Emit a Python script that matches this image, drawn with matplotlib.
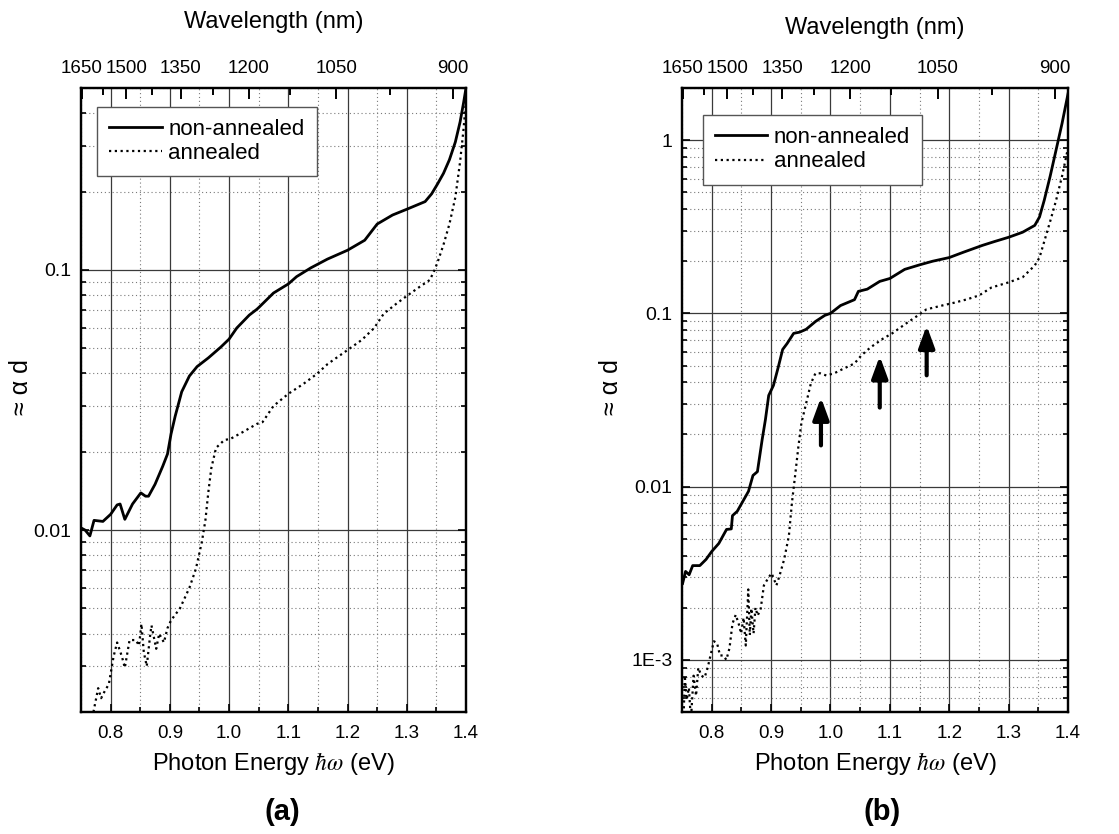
import matplotlib

matplotlib.use("Agg")
import matplotlib.pyplot as plt
from matplotlib.patches import ArrowStyle
from matplotlib.ticker import FixedLocator, LogLocator, NullFormatter

plt.rcParams["font.family"] = ["Liberation Sans", "DejaVu Sans"]
plt.rcParams["mathtext.fontset"] = "stix"

HC = 1239.84  # eV*nm

# ---- panel (a) ----
a_non_E = [0.750, 0.757, 0.765, 0.772, 0.787, 0.800, 0.811, 0.816, 0.824, 0.837,
           0.851, 0.859, 0.864, 0.875, 0.888, 0.896, 0.902, 0.909, 0.920, 0.933,
           0.946, 0.965, 0.986, 1.000, 1.013, 1.034, 1.047, 1.051, 1.075, 1.100,
           1.114, 1.138, 1.166, 1.200, 1.229, 1.250, 1.276, 1.300, 1.331, 1.342,
           1.352, 1.362, 1.372, 1.382, 1.390, 1.396, 1.400]
a_non_y = [0.0102, 0.0100, 0.0095, 0.0109, 0.0108, 0.0115, 0.0125, 0.0126, 0.0110, 0.0126,
           0.0139, 0.0135, 0.0135, 0.0150, 0.0176, 0.0196, 0.0234, 0.0274, 0.0340, 0.0391,
           0.0425, 0.0459, 0.0505, 0.0542, 0.0598, 0.0670, 0.0706, 0.0720, 0.0815, 0.0883,
           0.0942, 0.1018, 0.1100, 0.1190, 0.1300, 0.1500, 0.1625, 0.1710, 0.1830, 0.1960,
           0.2140, 0.2350, 0.2650, 0.3100, 0.3700, 0.4400, 0.5000]

a_ann_E = [0.771, 0.779, 0.784, 0.789, 0.797, 0.805, 0.811, 0.819, 0.824, 0.832,
           0.8425, 0.848, 0.852, 0.856, 0.861, 0.8665, 0.869, 0.877, 0.882, 0.890,
           0.896, 0.902, 0.917, 0.933, 0.944, 0.954, 0.960, 0.965, 0.970, 0.978,
           0.992, 1.002, 1.023, 1.047, 1.0565, 1.075, 1.100, 1.125, 1.148, 1.1665,
           1.200, 1.224, 1.245, 1.261, 1.282, 1.300, 1.324, 1.339, 1.347, 1.352,
           1.362, 1.372, 1.382, 1.390, 1.396, 1.400]
a_ann_y = [0.0020, 0.00247, 0.00226, 0.00238, 0.00256, 0.00327, 0.0037, 0.00327, 0.00296, 0.00378,
           0.00378, 0.0036, 0.00436, 0.0034, 0.0030, 0.0039, 0.0043, 0.0035, 0.0040, 0.0037,
           0.0042, 0.0045, 0.0050, 0.0060, 0.0071, 0.0090, 0.0109, 0.0140, 0.0173, 0.0207,
           0.0222, 0.0224, 0.0238, 0.0256, 0.0260, 0.0300, 0.0334, 0.0364, 0.0398, 0.0435,
           0.0492, 0.0538, 0.0598, 0.0678, 0.0740, 0.0794, 0.0868, 0.0915, 0.1000, 0.1070,
           0.1250, 0.1500, 0.1900, 0.2600, 0.3500, 0.4500]

# ---- panel (b) ----
b_non_E = [0.751, 0.756, 0.762, 0.768, 0.780, 0.7905, 0.800, 0.812, 0.825, 0.833,
           0.835, 0.843, 0.854, 0.862, 0.8695, 0.877, 0.885, 0.8905, 0.896, 0.904,
           0.912, 0.9195, 0.927, 0.938, 0.948, 0.959, 0.975, 0.9905, 1.000, 1.017,
           1.0405, 1.047, 1.062, 1.083, 1.100, 1.125, 1.151, 1.172, 1.200, 1.224,
           1.256, 1.2765, 1.300, 1.3235, 1.344, 1.352, 1.360, 1.370, 1.380, 1.390,
           1.400]
b_non_y = [0.00276, 0.00324, 0.0031, 0.0035, 0.0035, 0.0038, 0.00422, 0.0047, 0.00566, 0.0057,
           0.0068, 0.0072, 0.0084, 0.0094, 0.0116, 0.0122, 0.0187, 0.0244, 0.0336, 0.0384,
           0.0488, 0.0619, 0.0670, 0.0767, 0.0779, 0.0809, 0.0899, 0.0974, 0.1000, 0.1110,
           0.1200, 0.1340, 0.1380, 0.1530, 0.1590, 0.1795, 0.1910, 0.2000, 0.2100, 0.2255,
           0.2470, 0.2600, 0.2750, 0.2940, 0.3220, 0.3600, 0.4500, 0.6200, 0.8800, 1.2500,
           1.8500]

b_ann_E = [0.7526, 0.7547, 0.758, 0.7616, 0.765, 0.7695, 0.7737, 0.7774, 0.7826, 0.788,
           0.7932, 0.798, 0.8037, 0.809, 0.814, 0.8195, 0.8247, 0.830, 0.835, 0.8405,
           0.8458, 0.8495, 0.8537, 0.8574, 0.8616, 0.8642, 0.8668, 0.8705, 0.8737, 0.8774,
           0.8826, 0.8879, 0.8958, 0.901, 0.909, 0.9142, 0.922, 0.930, 0.935, 0.9405,
           0.9458, 0.951, 0.959, 0.967, 0.9747, 0.9826, 0.993, 1.0063, 1.0195, 1.0405,
           1.052, 1.0676, 1.0885, 1.104, 1.1277, 1.1475, 1.1616, 1.188, 1.2086, 1.2295,
           1.2504, 1.271, 1.300, 1.3235, 1.344, 1.352, 1.360, 1.370, 1.380, 1.390,
           1.400]
b_ann_y = [0.00045, 0.00081, 0.00059, 0.00069, 0.00045, 0.00081, 0.00062, 0.00090, 0.00081, 0.00079,
           0.00090, 0.00106, 0.00128, 0.00125, 0.00106, 0.00106, 0.00100, 0.00117, 0.00162, 0.00182,
           0.00160, 0.00142, 0.00175, 0.00121, 0.00255, 0.00139, 0.00198, 0.00142, 0.00200, 0.00180,
           0.00198, 0.00269, 0.00299, 0.00316, 0.00269, 0.00306, 0.0038, 0.0052, 0.0080, 0.0116,
           0.0168, 0.0232, 0.0302, 0.0394, 0.0451, 0.0451, 0.0438, 0.0451, 0.0475, 0.0514,
           0.0572, 0.0637, 0.0715, 0.0767, 0.0876, 0.0974, 0.1055, 0.1110, 0.1153, 0.1204,
           0.1270, 0.1410, 0.1510, 0.1615, 0.1890, 0.2100, 0.2600, 0.3400, 0.4500, 0.6200,
           0.9000]

# arrows in panel (b): energy, tail value, head value
arrow_E = [0.984, 1.083, 1.162]
arrow_tail = [0.0173, 0.0286, 0.0439]
arrow_head = [0.0327, 0.0567, 0.0850]

top_major_nm = [1650, 1500, 1350, 1200, 1050, 900]
top_minor_nm = [1575, 1425, 1275, 1125, 975]
x_major = [0.8, 0.9, 1.0, 1.1, 1.2, 1.3, 1.4]
x_minor = [0.75, 0.85, 0.95, 1.05, 1.15, 1.25, 1.35]


def style_panel(ax, ylim, yticks, ylabels, ylabel_x, wl_pad):
    ax.set_xlim(0.75, 1.4)
    ax.set_yscale("log")
    ax.set_ylim(*ylim)
    ax.xaxis.set_major_locator(FixedLocator(x_major))
    ax.xaxis.set_minor_locator(FixedLocator(x_minor))
    ax.set_xticklabels([f"{v:.1f}" for v in x_major])
    ax.yaxis.set_major_locator(FixedLocator(yticks))
    ax.set_yticklabels(ylabels)
    ax.yaxis.set_minor_locator(LogLocator(base=10, subs=range(2, 10)))
    ax.yaxis.set_minor_formatter(NullFormatter())

    ax.grid(True, which="major", color="#3a3a3a", linewidth=0.9, linestyle="-")
    ax.grid(True, which="minor", color="#7a7a7a", linewidth=0.8, linestyle=(0, (1, 2.5)))
    ax.tick_params(which="both", direction="in", left=True, right=True, top=False,
                   bottom=True, width=1.2)
    ax.tick_params(which="major", length=6)
    ax.tick_params(which="minor", length=3.5)
    ax.tick_params(axis="x", pad=9, labelsize=13.5)
    ax.tick_params(axis="y", pad=7, labelsize=14)
    for spine in ax.spines.values():
        spine.set_linewidth(1.6)

    ax.set_xlabel(r"Photon Energy $\hbar\omega$ (eV)", fontsize=17, labelpad=6)
    ax.set_ylabel("≈ α d", fontsize=18)
    ax.yaxis.set_label_coords(ylabel_x, 0.52)

    top = ax.twiny()
    top.set_xlim(ax.get_xlim())
    top.xaxis.set_major_locator(FixedLocator([HC / nm for nm in top_major_nm]))
    top.xaxis.set_minor_locator(FixedLocator([HC / nm for nm in top_minor_nm]))
    top.set_xticklabels([str(nm) for nm in top_major_nm])
    top.tick_params(which="both", direction="in", width=1.4, labelsize=13.5, pad=8)
    top.tick_params(which="major", length=8)
    top.tick_params(which="minor", length=5)
    top.set_xlabel("Wavelength (nm)", fontsize=17, labelpad=wl_pad)
    for spine in top.spines.values():
        spine.set_linewidth(1.6)
    return top


def draw_curves(ax, non_E, non_y, ann_E, ann_y, legend_anchor):
    ax.plot(non_E, non_y, color="black", linewidth=2.0, linestyle="-", label="non-annealed")
    ax.plot(ann_E, ann_y, color="black", linewidth=1.6, linestyle=(0, (1, 1.6)), label="annealed")
    leg = ax.legend(loc="upper left", bbox_to_anchor=legend_anchor, fontsize=16,
                    frameon=True, fancybox=False, framealpha=1, edgecolor="#555555",
                    handlelength=2.35, handletextpad=0.3, borderpad=0.55,
                    labelspacing=0.15, borderaxespad=0)
    leg.get_frame().set_linewidth(1.0)
    leg.set_zorder(5)


fig = plt.figure(figsize=(11.19, 8.34), dpi=100)
ax_a = fig.add_axes([81 / 1119, 1 - 712 / 834, 385 / 1119, 624 / 834])
ax_b = fig.add_axes([682 / 1119, 1 - 712 / 834, 386 / 1119, 624 / 834])

draw_curves(ax_a, a_non_E, a_non_y, a_ann_E, a_ann_y, (0.042, 0.97))
style_panel(ax_a, (0.002, 0.5), [0.01, 0.1], ["0.01", "0.1"], -0.125, 23)

draw_curves(ax_b, b_non_E, b_non_y, b_ann_E, b_ann_y, (0.054, 0.957))
style_panel(ax_b, (0.0005, 2.0), [0.001, 0.01, 0.1, 1], ["1E-3", "0.01", "0.1", "1"],
            -0.153, 19)

arrow = ArrowStyle("-|>", head_length=0.6, head_width=0.22)
for e, tail, head in zip(arrow_E, arrow_tail, arrow_head):
    ax_b.annotate("", xy=(e, head), xytext=(e, tail),
                  arrowprops=dict(arrowstyle=arrow, color="black", lw=3.0,
                                  mutation_scale=22, shrinkA=0, shrinkB=0))

fig.text(282 / 1119, 1 - 812 / 834, "(a)", fontsize=21, fontweight="bold",
         ha="center", va="center")
fig.text(882 / 1119, 1 - 812 / 834, "(b)", fontsize=21, fontweight="bold",
         ha="center", va="center")

fig.savefig("out.png", dpi=100)
